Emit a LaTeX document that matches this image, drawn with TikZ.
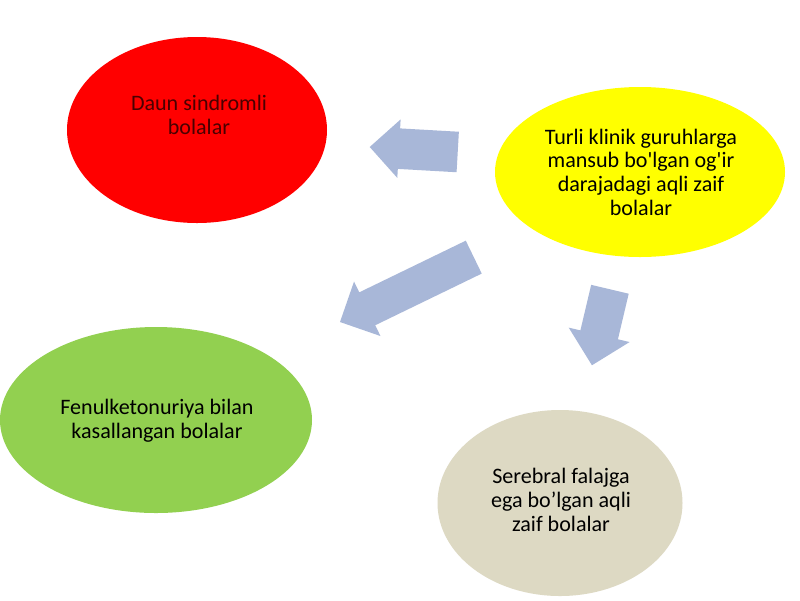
\documentclass[tikz,border=0pt]{standalone}
\usepackage{fontspec}
\newfontfamily\bodyfont{Carlito}
\usetikzlibrary{shapes.geometric,shapes.arrows,calc}

\definecolor{daunred}{HTML}{FF0000}
\definecolor{daunink}{HTML}{4A0000}
\definecolor{turliyellow}{HTML}{FFFF00}
\definecolor{fenulgreen}{HTML}{92D050}
\definecolor{serebbeige}{HTML}{DDD9C3}
\definecolor{arrowblue}{HTML}{A8B7D8}

\newdimen\unitpx \unitpx=0.025cm

\tikzset{
  blob/.style={ellipse, inner sep=0pt, draw=none},
  lbl/.style={font=\bodyfont\fontsize{15.7}{16.8}\selectfont, align=center, text=black},
  fatarrow/.style={single arrow, fill=arrowblue, draw=none, inner xsep=0pt,
    single arrow head extend=#1, single arrow head indent=0pt, anchor=tail},
}

% block arrow from #1 to #2, half shaft width #3, head extend #4
\newcommand{\blockarrow}[4]{%
  \path let \p1=($(#2)-(#1)$), \n1={atan2(\y1,\x1)}, \n2={veclen(\x1,\y1)} in
    node[fatarrow=#4, inner ysep=#3, minimum height=\n2, rotate=\n1] at (#1) {};
}

\begin{document}
\begin{tikzpicture}[x=0.025cm, y=0.025cm]
\useasboundingbox[fill=white] (0,0) rectangle (800,-600);

% ellipses
\node[blob, fill=daunred, minimum width=260\unitpx, minimum height=186\unitpx] (daun) at (197,-130) {};
\node[blob, fill=turliyellow, minimum width=290\unitpx, minimum height=170\unitpx] (turli) at (640,-172) {};
\node[blob, fill=fenulgreen, minimum width=312\unitpx, minimum height=186\unitpx] (fenul) at (156,-420) {};
\node[blob, fill=serebbeige, minimum width=245\unitpx, minimum height=186\unitpx] (sereb) at (560,-503) {};

% texts
\node[lbl, text=daunink] (dauntext) at ([xshift=2\unitpx, yshift=15\unitpx]daun.center) {Daun sindromli\\bolalar};
\node[lbl] (turlitext) at ([xshift=1\unitpx]turli.center) {Turli klinik guruhlarga\\mansub bo'lgan og'ir\\darajadagi aqli zaif\\bolalar};
\node[lbl] (fenultext) at ([xshift=1\unitpx, yshift=-1\unitpx]fenul.center) {Fenulketonuriya bilan\\kasallangan bolalar};
\node[lbl] (serebtext) at ([xshift=1\unitpx, yshift=3\unitpx]sereb.center) {Serebral falajga\\ega bo’lgan aqli\\zaif bolalar};

% block arrows
\coordinate (tailDaun) at (458,-152);
\coordinate (tipDaun) at (370,-147);
\coordinate (tailFenul) at (474,-257);
\coordinate (tipFenul) at (340,-322);
\coordinate (tailSereb) at (610,-289);
\coordinate (tipSereb) at (592,-365);
\blockarrow{tailDaun}{tipDaun}{20\unitpx}{9\unitpx}
\blockarrow{tailFenul}{tipFenul}{18\unitpx}{12\unitpx}
\blockarrow{tailSereb}{tipSereb}{19\unitpx}{12\unitpx}
\end{tikzpicture}
\end{document}
